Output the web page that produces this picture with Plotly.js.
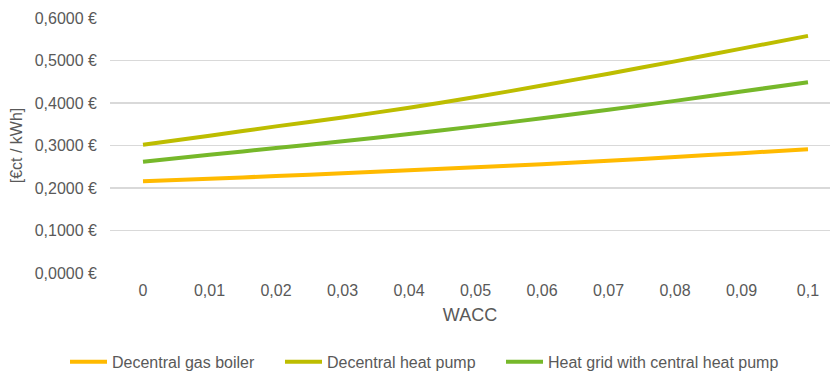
<!DOCTYPE html>
<html>
<head>
<meta charset="utf-8">
<script src="https://cdn.plot.ly/plotly-3.0.1.min.js"></script>
<style>html,body{margin:0;padding:0;background:#fff;}#chart{width:830px;height:371px;}</style>
</head>
<body>
<div id="chart"></div>
<script>
// WACC values (x axis)
const wacc = [0, 0.01, 0.02, 0.03, 0.04, 0.05, 0.06, 0.07, 0.08, 0.09, 0.1];
const waccLabels = ["0", "0,01", "0,02", "0,03", "0,04", "0,05", "0,06", "0,07", "0,08", "0,09", "0,1"];
// Series names
const seriesNames = ["Decentral gas boiler", "Decentral heat pump", "Heat grid with central heat pump"];
// Costs [€ct / kWh]
const gasBoiler = [0.216, 0.222, 0.228, 0.235, 0.242, 0.249, 0.256, 0.264, 0.273, 0.282, 0.291];
const heatPump = [0.302, 0.323, 0.345, 0.366, 0.389, 0.414, 0.441, 0.469, 0.498, 0.528, 0.558];
const heatGrid = [0.262, 0.278, 0.294, 0.310, 0.327, 0.345, 0.364, 0.384, 0.405, 0.427, 0.449];
// Y axis ticks
const yTicks = [0, 0.1, 0.2, 0.3, 0.4, 0.5, 0.6];
const yTickLabels = ["0,0000 €", "0,1000 €", "0,2000 €", "0,3000 €", "0,4000 €", "0,5000 €", "0,6000 €"];

const colors = ["#FFBA00", "#BDBD00", "#76B82A"];
const legendWidths = [163, 169, 229];
const seriesValues = [gasBoiler, heatPump, heatGrid];

const traces = seriesValues.map((vals, i) => ({
  type: "scatter",
  mode: "lines",
  x: wacc,
  y: vals,
  name: seriesNames[i],
  legendwidth: legendWidths[i],
  line: {color: colors[i], width: 4, shape: "spline", smoothing: 0.6},
  hoverinfo: "x+y+name"
}));

const fontFam = "Liberation Sans, Arial, sans-serif";
const textColor = "#595959";

const layout = {
  width: 830,
  height: 371,
  margin: {l: 110, r: 0, t: 18, b: 98, pad: 0},
  paper_bgcolor: "#ffffff",
  plot_bgcolor: "#ffffff",
  font: {family: fontFam, size: 16, color: textColor},
  showlegend: true,
  xaxis: {
    range: [-0.004962, 0.10331],
    tickvals: wacc,
    ticktext: waccLabels,
    showgrid: false,
    zeroline: false,
    showline: false,
    ticks: "",
    ticklabelstandoff: 6,
    tickfont: {family: fontFam, size: 16, color: textColor},
    title: {text: "WACC", font: {family: fontFam, size: 18, color: textColor}, standoff: 10}
  },
  yaxis: {
    range: [0, 0.6],
    tickvals: yTicks,
    ticktext: yTickLabels,
    showgrid: true,
    gridcolor: "#D9D9D9",
    gridwidth: 1.3,
    zeroline: false,
    showline: false,
    ticks: "",
    ticklabelstandoff: 12,
    tickfont: {family: fontFam, size: 16, color: textColor},
    title: {text: "[€ct / kWh]", font: {family: fontFam, size: 16, color: textColor}, standoff: 8}
  },
  legend: {
    orientation: "h",
    xref: "container",
    yref: "container",
    x: 65 / 830,
    xanchor: "left",
    y: 0.025,
    yanchor: "middle",
    itemwidth: 37,
    font: {family: fontFam, size: 16, color: textColor},
    bgcolor: "rgba(0,0,0,0)"
  }
};

Plotly.newPlot("chart", traces, layout, {displayModeBar: false, staticPlot: true});
</script>
</body>
</html>
